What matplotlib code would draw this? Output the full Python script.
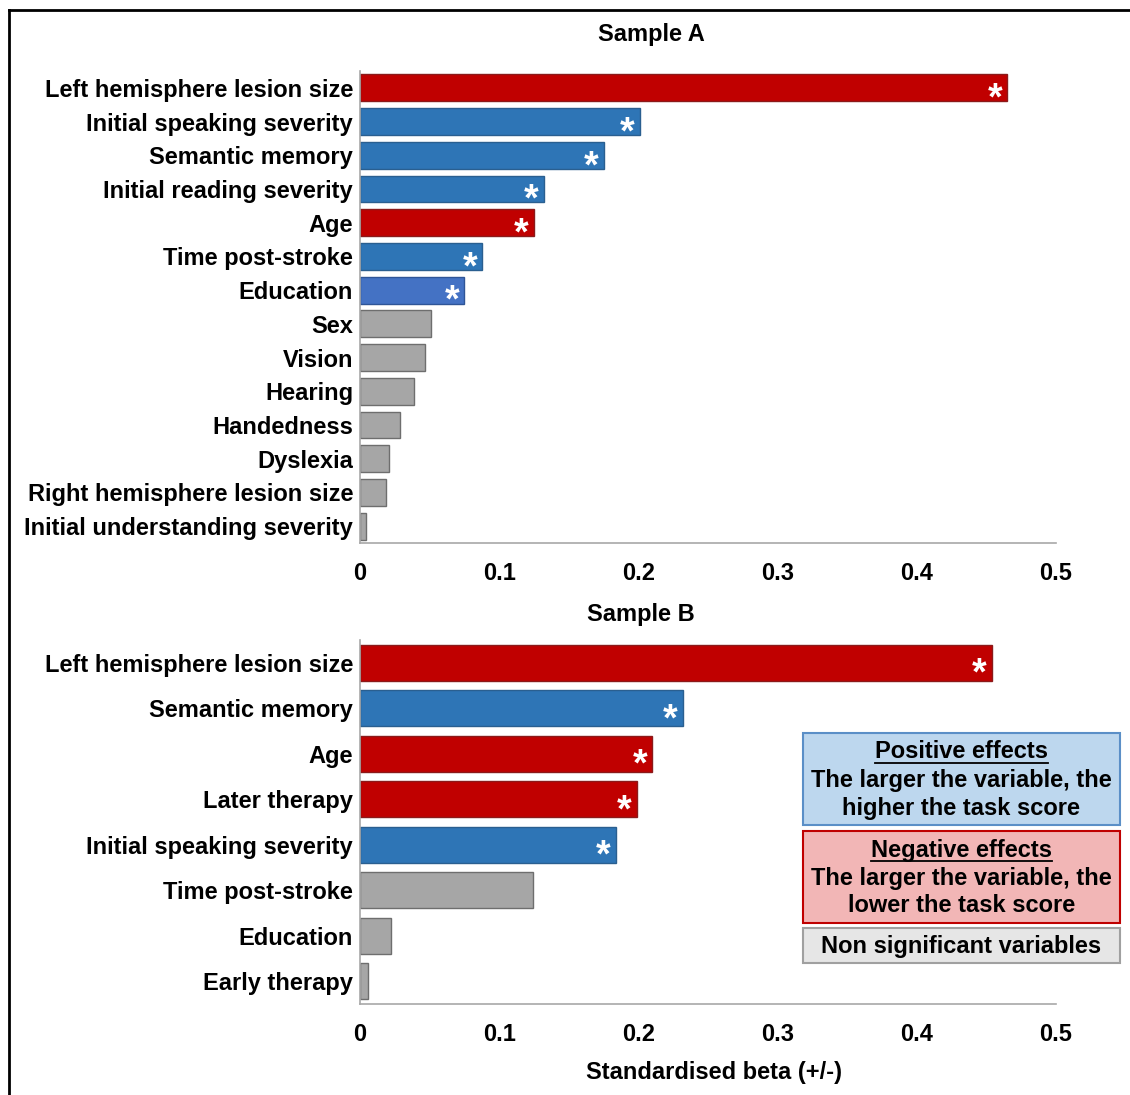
import matplotlib.pyplot as plt
from matplotlib.patches import Rectangle
from matplotlib.lines import Line2D

plt.rcParams['font.family'] = ['Liberation Sans', 'DejaVu Sans']
plt.rcParams['font.weight'] = 'bold'

# Sample A: standardised betas (absolute) and direction of effect
vars_a = ["Left hemisphere lesion size", "Initial speaking severity", "Semantic memory",
          "Initial reading severity", "Age", "Time post-stroke", "Education", "Sex",
          "Vision", "Hearing", "Handedness", "Dyslexia", "Right hemisphere lesion size",
          "Initial understanding severity"]
beta_a = [0.465, 0.201, 0.175, 0.132, 0.125, 0.088, 0.075, 0.051,
          0.047, 0.039, 0.029, 0.021, 0.019, 0.004]
effect_a = ["neg", "pos", "pos", "pos", "neg", "pos", "pos2", "ns",
            "ns", "ns", "ns", "ns", "ns", "ns"]

# Sample B
vars_b = ["Left hemisphere lesion size", "Semantic memory", "Age", "Later therapy",
          "Initial speaking severity", "Time post-stroke", "Education", "Early therapy"]
beta_b = [0.454, 0.232, 0.210, 0.199, 0.184, 0.124, 0.022, 0.006]
effect_b = ["neg", "pos", "neg", "neg", "pos", "ns", "ns", "ns"]

xticks = [0, 0.1, 0.2, 0.3, 0.4, 0.5]
xtick_labels = ["0", "0.1", "0.2", "0.3", "0.4", "0.5"]

fill = {"neg": "#C00000", "pos": "#2E75B6", "pos2": "#4472C4", "ns": "#A6A6A6"}
edge = {"neg": "#8B1A1A", "pos": "#2A5F90", "pos2": "#2F5597", "ns": "#6E6E6E"}

W, H = 1130, 1095
FS = 17
fig = plt.figure(figsize=(W / 100, H / 100), dpi=100)


def px_axes(x0, y0, x1, y1):
    return fig.add_axes([x0 / W, 1 - y1 / H, (x1 - x0) / W, (y1 - y0) / H])


def draw_panel(ax, names, betas, effects):
    n = len(names)
    ypos = list(range(n))
    ax.barh(ypos, betas, height=0.8,
            color=[fill[e] for e in effects],
            edgecolor=[edge[e] for e in effects], linewidth=1.0)
    for y, b, e in zip(ypos, betas, effects):
        if e != "ns":
            ax.annotate("*", xy=(b, y), xytext=(-9, -8.5), textcoords="offset points",
                        ha="center", va="center", color="white",
                        fontsize=27, fontweight="bold")
    ax.set_xlim(0, 0.5)
    ax.set_ylim(n - 0.5, -0.5)
    ax.set_yticks(ypos)
    ax.set_yticklabels(names, fontsize=FS, fontweight="bold")
    ax.set_xticks(xticks)
    ax.set_xticklabels(xtick_labels, fontsize=FS, fontweight="bold")
    ax.tick_params(axis="both", length=0)
    ax.tick_params(axis="y", pad=5)
    ax.tick_params(axis="x", pad=14)
    for s in ["top", "right"]:
        ax.spines[s].set_visible(False)
    for s in ["left", "bottom"]:
        ax.spines[s].set_color("#A8A8A8")
        ax.spines[s].set_linewidth(1.2)


ax_a = px_axes(360, 71, 1056, 543)
draw_panel(ax_a, vars_a, beta_a, effect_a)

ax_b = px_axes(360, 640, 1056, 1004)
draw_panel(ax_b, vars_b, beta_b, effect_b)

fig.text(651 / W, 1 - 34 / H, "Sample A", ha="center", va="center",
         fontsize=FS, fontweight="bold")
fig.text(641 / W, 1 - 615 / H, "Sample B", ha="center", va="center",
         fontsize=FS, fontweight="bold")
fig.text(714 / W, 1 - 1072 / H, "Standardised beta (+/-)", ha="center", va="center",
         fontsize=FS, fontweight="bold")

# key boxes
key = [
    (733, 825, "#BDD7EE", "#5B8FC7", "Positive effects",
     ["The larger the variable, the", "higher the task score"]),
    (831, 923, "#F2B6B6", "#C00000", "Negative effects",
     ["The larger the variable, the", "lower the task score"]),
]
bx0, bx1 = 803, 1120
bcx = (bx0 + bx1) / 2
fig.canvas.draw()
renderer = fig.canvas.get_renderer()
for y0, y1, fc, ec, head, lines in key:
    fig.add_artist(Rectangle((bx0 / W, 1 - y1 / H), (bx1 - bx0) / W, (y1 - y0) / H,
                             transform=fig.transFigure, facecolor=fc,
                             edgecolor=ec, linewidth=1.5))
    ty = y0 + 19
    t = fig.text(bcx / W, 1 - ty / H, head, ha="center", va="center",
                 fontsize=FS, fontweight="bold")
    bb = t.get_window_extent(renderer)
    uy = (1 - (ty + 11) / H)
    fig.add_artist(Line2D([bb.x0 / W, bb.x1 / W], [uy, uy],
                          transform=fig.transFigure, color="black", linewidth=1.3))
    for k, ln in enumerate(lines):
        fig.text(bcx / W, 1 - (ty + 28 * (k + 1)) / H, ln, ha="center",
                 va="center", fontsize=FS, fontweight="bold")

fig.add_artist(Rectangle((bx0 / W, 1 - 963 / H), (bx1 - bx0) / W, 35 / H,
                         transform=fig.transFigure, facecolor="#E6E6E6",
                         edgecolor="#A0A0A0", linewidth=1.5))
fig.text(bcx / W, 1 - 946 / H, "Non significant variables", ha="center",
         va="center", fontsize=FS, fontweight="bold")

# frame lines at top and left
fig.add_artist(Line2D([9 / W, 1], [1 - 10 / H, 1 - 10 / H],
                      transform=fig.transFigure, color="black", linewidth=2))
fig.add_artist(Line2D([9 / W, 9 / W], [0, 1 - 10 / H],
                      transform=fig.transFigure, color="black", linewidth=2))

fig.savefig("out.png", dpi=100, facecolor="white")
